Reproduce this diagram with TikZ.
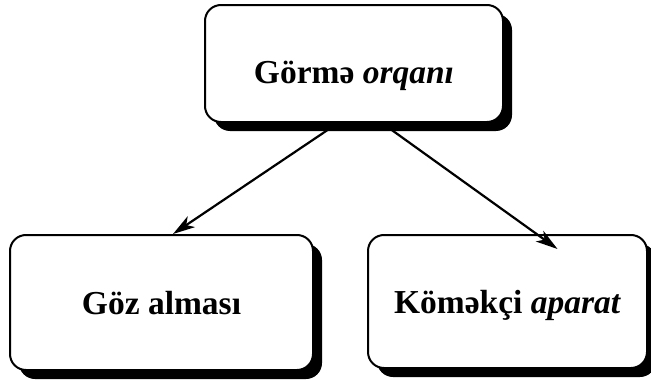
\documentclass[tikz,border=0pt]{standalone}
\usepackage{fontspec}
\setmainfont{Liberation Serif}
\usetikzlibrary{arrows.meta,shadows,positioning}

\begin{document}
\begin{tikzpicture}
  [
    x=1pt,y=-1pt,
    organ/.style={rectangle,rounded corners=16pt,draw=black,line width=2pt,fill=white,
      font=\fontsize{33.5}{40}\selectfont\bfseries,inner sep=0pt,
      drop shadow={shadow xshift=9pt,shadow yshift=-9pt,fill=black,opacity=1}},
    link/.style={line width=2.2pt,-{Stealth[length=22pt,width=13pt,inset=6pt]}}
  ]
  \useasboundingbox (0,0) rectangle (651,380);
  \node[organ,minimum width=298pt,minimum height=117pt,text height=39pt,text depth=0pt] at (354,63.5) (gorme) {Görmə \textit{orqanı}};
  \node[organ,minimum width=303pt,minimum height=135pt,text height=23pt,text depth=0pt] at (161.5,302.5) (goz) {Göz alması};
  \node[organ,minimum width=279pt,minimum height=133pt,text height=23pt,text depth=0pt] at (507.5,301.5) (komekci) {Köməkçi \textit{aparat}};
  \draw[link] ([xshift=-16pt]gorme.south) -- ([xshift=11.5pt]goz.north);
  \draw[link] ([xshift=28pt]gorme.south) -- ([xshift=50pt,yshift=-15pt]komekci.north);
\end{tikzpicture}
\end{document}
